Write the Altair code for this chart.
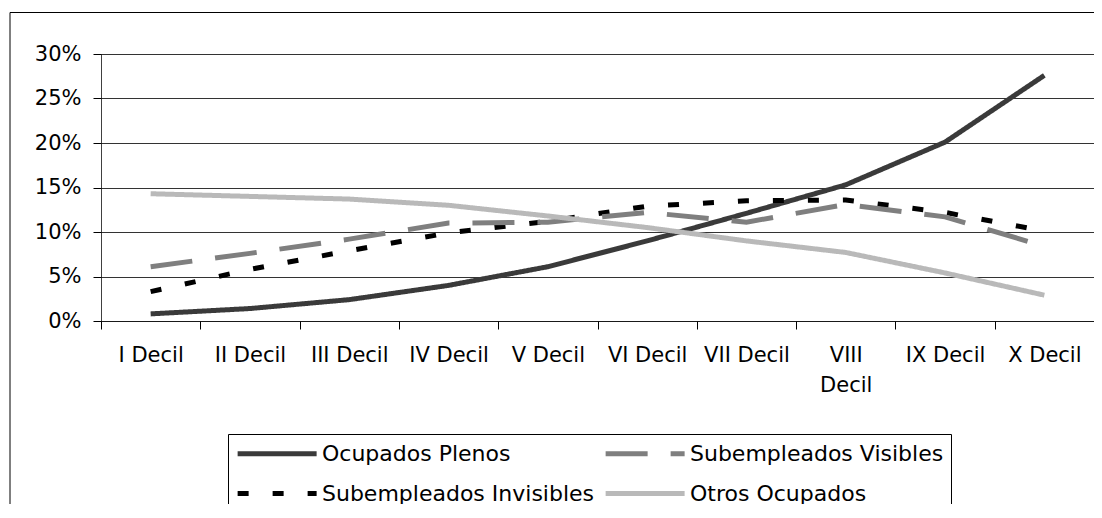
import altair as alt
import pandas as pd

categories = ["I Decil", "II Decil", "III Decil", "IV Decil", "V Decil",
              "VI Decil", "VII Decil", "VIII Decil", "IX Decil", "X Decil"]
plenos = [0.8, 1.4, 2.4, 4.0, 6.1, 9.0, 12.1, 15.3, 20.1, 27.6]
visibles = [6.1, 7.6, 9.2, 11.0, 11.1, 12.2, 11.1, 13.1, 11.7, 8.4]
invisibles = [3.3, 5.8, 7.9, 9.9, 11.2, 12.9, 13.5, 13.6, 12.2, 10.1]
otros = [14.3, 14.0, 13.7, 13.0, 11.8, 10.5, 9.0, 7.7, 5.4, 2.9]

# legend is filled column by column: col 1 = Plenos, Invisibles; col 2 = Visibles, Otros
series_names = ["Ocupados Plenos", "Subempleados Invisibles",
                "Subempleados Visibles", "Otros Ocupados"]
series_values = [plenos, invisibles, visibles, otros]
series_colors = ["#3a3a3a", "#000000", "#7f7f7f", "#b9b9b9"]
series_dash = [[1, 0], [11, 24], [42, 23], [1, 0]]
y_ticks = [0, 5, 10, 15, 20, 25, 30]

rows = []
for name, vals in zip(series_names, series_values):
    for cat, v in zip(categories, vals):
        rows.append({"decil": cat, "valor": v, "serie": name})
df = pd.DataFrame(rows)

FONT = "DejaVu Sans"

legend_kw = dict(title=None, orient="none", legendX=127, legendY=380,
                 columns=2, symbolType="M-1,0L7,0", symbolSize=390,
                 symbolStrokeWidth=5, labelFont=FONT, labelFontSize=22,
                 labelColor="#000", labelLimit=500, labelOffset=62,
                 columnPadding=0, rowPadding=16, padding=7,
                 strokeColor="#000", fillColor="#fff")

lines = alt.Chart(df).mark_line(strokeWidth=5, strokeCap="butt", strokeJoin="miter").encode(
    x=alt.X("decil:N", sort=categories, bandPosition=0.5,
            scale=alt.Scale(type="band", paddingInner=0, paddingOuter=0),
            axis=alt.Axis(title=None, labelAngle=0, tickBand="extent", tickSize=8,
                          tickColor="#000", labelPadding=15, labelFont=FONT,
                          labelFontSize=21, labelColor="#000", labelBaseline="top",
                          labelLineHeight=30, labelOverlap=False, grid=False,
                          domainColor="#000", domainDash=[1, 1],
                          labelExpr="datum.label == 'VIII Decil' ? ['VIII', 'Decil'] : datum.label")),
    y=alt.Y("valor:Q", scale=alt.Scale(domain=[0, 30], nice=False),
            axis=alt.Axis(title=None, values=y_ticks, labelExpr="datum.value + '%'",
                          grid=True, gridColor="#333", gridWidth=1, tickSize=8,
                          tickColor="#000", labelPadding=12, labelFont=FONT,
                          labelFontSize=21, labelColor="#000",
                          domainColor="#000", domainDash=[1, 1])),
    color=alt.Color("serie:N", sort=series_names,
                    scale=alt.Scale(domain=series_names, range=series_colors),
                    legend=alt.Legend(**legend_kw)),
    strokeDash=alt.StrokeDash("serie:N", sort=series_names,
                              scale=alt.Scale(domain=series_names, range=series_dash),
                              legend=alt.Legend(**legend_kw)),
)

frame = alt.Chart(pd.DataFrame({"k": [0]})).mark_rect(
    fill="transparent", stroke="#000", strokeWidth=1
).encode(
    x=alt.value(-91), x2=alt.value(3000), y=alt.value(-41.5), y2=alt.value(3000)
)

chart = alt.layer(frame, lines).properties(
    width=993, height=267,
    autosize=alt.AutoSizeParams(type="none"),
    padding={"left": 93, "top": 46, "right": 0, "bottom": 183},
    background="#ffffff",
).configure_view(stroke="#808080", strokeWidth=1)

chart.save("out.html", embed_options={"renderer": "svg", "actions": False})
